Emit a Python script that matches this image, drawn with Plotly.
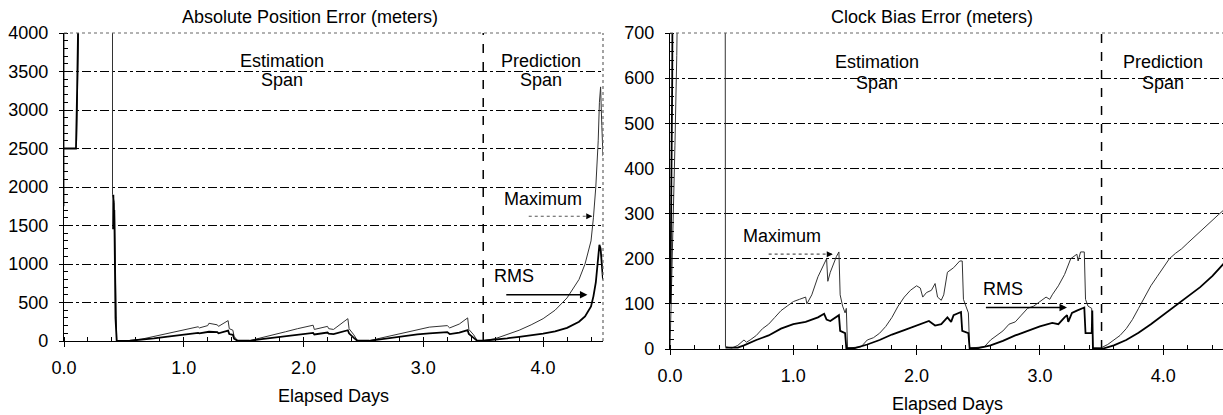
import plotly.graph_objects as go

# ---------------- data ----------------
# Left: Absolute Position Error (meters)
pos_max_x = [0.0, 0.0, None,
             0.105, 0.115, 0.125, None,
             0.405, 0.405, 0.42, 0.44,
             0.45, 0.55, 0.65, 0.75, 0.85, 0.95, 1.05, 1.12, 1.13, 1.20, 1.21, 1.28, 1.29, 1.37, 1.38, 1.41, 1.42, 1.45,
             1.55, 1.65, 1.75, 1.85, 1.95, 2.08, 2.09, 2.20, 2.21, 2.25, 2.37, 2.38, 2.42, 2.45,
             2.55, 2.65, 2.75, 2.85, 2.95, 3.05, 3.20, 3.22, 3.30, 3.37, 3.38, 3.42, 3.45,
             3.50, 3.60, 3.70, 3.80, 3.90, 4.00, 4.10, 4.20, 4.30, 4.35, 4.40, 4.42, 4.44, 4.46, 4.47, 4.48, 4.49, 4.50]
pos_max_y = [1750, 4300, None,
             2600, 3300, 4300, None,
             4300, 1900, 1800, 5,
             3, 5, 25, 60, 100, 135, 165, 185, 170, 200, 230, 210, 190, 265, 160, 140, 60, 5,
             5, 40, 80, 120, 160, 205, 150, 190, 160, 150, 290, 160, 80, 5,
             5, 40, 80, 115, 150, 180, 200, 170, 220, 300, 150, 80, 5,
             5, 30, 80, 140, 210, 290, 400, 560, 800, 1000, 1300, 1600, 2000, 2600, 3100, 3300, 2800, 2400]

pos_rms_x = [0.0, 0.1, 0.11, 0.12, None,
             0.41, 0.412, 0.415, 0.42, 0.43, 0.44,
             0.45, 0.55, 0.65, 0.75, 0.85, 0.95, 1.05, 1.12, 1.13, 1.20, 1.21, 1.28, 1.29, 1.37, 1.38, 1.41, 1.42, 1.45,
             1.55, 1.65, 1.75, 1.85, 1.95, 2.08, 2.09, 2.20, 2.21, 2.25, 2.37, 2.38, 2.42, 2.45,
             2.55, 2.65, 2.75, 2.85, 2.95, 3.05, 3.20, 3.22, 3.30, 3.37, 3.38, 3.42, 3.45,
             3.50, 3.60, 3.70, 3.80, 3.90, 4.00, 4.10, 4.20, 4.30, 4.35, 4.40, 4.42, 4.44, 4.46, 4.47, 4.48, 4.49, 4.50]
pos_rms_y = [2500, 2500, 3300, 4300, None,
             1450, 1900, 1500, 1700, 300, 3,
             2, 3, 15, 35, 55, 75, 95, 105, 100, 110, 120, 115, 100, 135, 90, 80, 30, 3,
             3, 25, 45, 65, 85, 105, 85, 110, 95, 90, 140, 100, 40, 3,
             3, 25, 45, 65, 85, 100, 115, 90, 110, 140, 90, 40, 3,
             3, 15, 35, 55, 75, 95, 125, 170, 250, 320, 450, 580, 760, 1050, 1250, 1200, 1000, 800]

# Right: Clock Bias Error (meters)
clk_max_x = [0.0, 0.02, 0.04, 0.055, 0.06, None,
             0.448, 0.45,
             0.50, 0.55, 0.60, 0.62, 0.65, 0.70, 0.75, 0.80, 0.85, 0.90, 0.95, 1.00, 1.05, 1.10, 1.11, 1.15, 1.20,
             1.25, 1.27, 1.28, 1.30, 1.35, 1.37, 1.38, 1.40, 1.42, 1.43, 1.44,
             1.50, 1.55, 1.60, 1.65, 1.70, 1.75, 1.80, 1.85, 1.90, 1.95, 2.00, 2.03, 2.05, 2.08, 2.12, 2.15, 2.17,
             2.20, 2.22, 2.25, 2.30, 2.35, 2.37, 2.38, 2.40, 2.42, 2.43,
             2.50, 2.55, 2.60, 2.65, 2.70, 2.75, 2.80, 2.85, 2.90, 2.95, 3.00, 3.05, 3.08, 3.10, 3.15, 3.20,
             3.25, 3.30, 3.31, 3.33, 3.36, 3.37, 3.39, 3.42, 3.43,
             3.50, 3.55, 3.60, 3.65, 3.70, 3.75, 3.80, 3.85, 3.90, 3.95, 4.00, 4.05, 4.10, 4.15, 4.20, 4.25,
             4.30, 4.35, 4.40, 4.45, 4.50]
clk_max_y = [0, 200, 450, 650, 760, None,
             760, 5,
             2, 8, 20, 15, 20, 30, 45, 55, 70, 85, 95, 105, 110, 115, 100, 120, 160,
             190, 200, 150, 170, 205, 215, 120, 95, 80, 90, 2,
             3, 5, 20, 25, 35, 50, 70, 95, 115, 130, 140, 135, 115, 125, 130, 145, 115,
             108, 120, 170, 180, 195, 195, 110, 95, 80, 2,
             3, 5, 20, 30, 40, 55, 60, 75, 90, 95, 105, 115, 110, 120, 140, 165,
             200, 210, 195, 215, 215, 110, 95, 90, 2,
             3, 10, 20, 30, 45, 65, 90, 115, 140, 160, 180, 200, 212, 222, 235, 248,
             260, 272, 285, 298, 310]

clk_rms_x = [0.003, 0.006, 0.01, 0.012, 0.014, 0.018, 0.02, None,
             0.45, 0.55, 0.60, 0.70, 0.80, 0.90, 1.00, 1.10, 1.20, 1.25, 1.27, 1.30, 1.37, 1.38, 1.42, 1.43,
             1.50, 1.60, 1.70, 1.80, 1.90, 2.00, 2.10, 2.15, 2.20, 2.25, 2.28, 2.30, 2.36, 2.37, 2.42, 2.43,
             2.50, 2.60, 2.70, 2.80, 2.90, 3.00, 3.10, 3.15, 3.20, 3.22, 3.23, 3.26, 3.30, 3.36, 3.37,
             3.42, 3.425, 3.43,
             3.50, 3.60, 3.70, 3.80, 3.90, 4.00, 4.10, 4.20, 4.30, 4.40, 4.50]
clk_rms_y = [100, 200, 320, 420, 330, 600, 760, None,
             3, 3, 8, 20, 30, 45, 55, 60, 70, 78, 65, 62, 75, 40, 35, 2,
             2, 10, 20, 32, 42, 52, 62, 52, 55, 70, 60, 75, 82, 40, 35, 2,
             2, 8, 18, 30, 40, 50, 58, 55, 70, 75, 60, 80, 85, 92, 35,
             35, 85, 2,
             0, 8, 20, 36, 55, 75, 95, 115, 137, 162, 192]

x_tick_vals = [0, 1, 2, 3, 4]
x_tick_text = ["0.0", "1.0", "2.0", "3.0", "4.0"]
pos_y_ticks = [0, 500, 1000, 1500, 2000, 2500, 3000, 3500, 4000]
clk_y_ticks = [0, 100, 200, 300, 400, 500, 600, 700]

split_day = 3.5

# label positions (data units)
pos_labels = [("Estimation", 1.82, 3640), ("Span", 1.82, 3390),
              ("Prediction", 3.98, 3640), ("Span", 3.98, 3390),
              ("Maximum", 4.0, 1850), ("RMS", 3.76, 850)]
clk_labels = [("Estimation", 1.68, 636), ("Span", 1.68, 589),
              ("Prediction", 4.0, 636), ("Span", 4.0, 589),
              ("Maximum", 0.91, 250), ("RMS", 2.70, 133)]
# arrows: (x_start, x_end, y)
pos_max_arrow = (3.88, 4.41, 1620)
pos_rms_arrow = (3.68, 4.37, 600)
clk_max_arrow = (0.80, 1.32, 210)
clk_rms_arrow = (2.55, 3.22, 92)

# ---------------- figure ----------------
W, H = 1223, 415
FONT = "Liberation Sans"
fig = go.Figure()

def px_x(p):
    return p / W

def px_y(p):
    return 1 - p / H

fig.add_trace(go.Scatter(x=pos_max_x, y=pos_max_y, mode="lines", xaxis="x", yaxis="y",
                         line=dict(color="#333333", width=1), connectgaps=False, showlegend=False))
fig.add_trace(go.Scatter(x=pos_rms_x, y=pos_rms_y, mode="lines", xaxis="x", yaxis="y",
                         line=dict(color="black", width=1.8), connectgaps=False, showlegend=False))
fig.add_trace(go.Scatter(x=clk_max_x, y=clk_max_y, mode="lines", xaxis="x2", yaxis="y2",
                         line=dict(color="#333333", width=1), connectgaps=False, showlegend=False))
fig.add_trace(go.Scatter(x=clk_rms_x, y=clk_rms_y, mode="lines", xaxis="x2", yaxis="y2",
                         line=dict(color="black", width=1.8), connectgaps=False, showlegend=False))

# dotted shafts for the "Maximum" arrows
for (xa, xb, yv), xr, yr in [(pos_max_arrow, "x", "y"), (clk_max_arrow, "x2", "y2")]:
    fig.add_trace(go.Scatter(x=[xa, xb], y=[yv, yv], mode="lines", xaxis=xr, yaxis=yr,
                             line=dict(color="#555555", width=1.2, dash="dot"), showlegend=False))

axis_common = dict(showline=True, linecolor="black", linewidth=1.2, zeroline=False, automargin=False,
                   tickfont=dict(family=FONT, size=18, color="black"))

xax = dict(axis_common, range=[0, 4.5], tickvals=x_tick_vals, ticktext=x_tick_text,
           ticks="outside", ticklen=5, tickcolor="black", showgrid=False,
           minor=dict(dtick=0.2, ticks="inside", ticklen=4, tickcolor="black", showgrid=False),
           ticklabelstandoff=5)
fig.update_layout(
    template="none",
    width=W, height=H, margin=dict(l=0, r=0, t=0, b=0, pad=0), autosize=False,
    paper_bgcolor="white", plot_bgcolor="white",
    xaxis=dict(xax, domain=[px_x(64), px_x(603)], anchor="y"),
    yaxis=dict(axis_common, range=[0, 4000], tickvals=pos_y_ticks, domain=[px_y(341), px_y(33)],
               anchor="x", ticks="outside", ticklen=4, tickcolor="black",
               showgrid=True, gridcolor="black", gridwidth=1, griddash="dashdot",
               minor=dict(dtick=100, ticks="inside", ticklen=4, tickcolor="black", showgrid=False),
               ticklabelstandoff=7),
    xaxis2=dict(xax, range=[0, 4.485], domain=[px_x(670), 1.0], anchor="y2"),
    yaxis2=dict(axis_common, range=[0, 700], tickvals=clk_y_ticks, domain=[px_y(349), px_y(33)],
                anchor="x2", ticks="outside", ticklen=4, tickcolor="black",
                showgrid=True, gridcolor="black", gridwidth=1, griddash="dashdot",
                minor=dict(dtick=20, ticks="inside", ticklen=4, tickcolor="black", showgrid=False),
                ticklabelstandoff=7),
)

shapes = []
for xr, yr in [("x", "y"), ("x2", "y2")]:
    # prediction boundary
    shapes.append(dict(type="line", xref=xr, yref=yr + " domain", x0=split_day, x1=split_day, y0=0, y1=1,
                       line=dict(color="black", width=1.5, dash="dash")))
    # dotted top frame
    shapes.append(dict(type="line", xref=xr + " domain", yref=yr + " domain", x0=0, x1=1, y0=1, y1=1,
                       line=dict(color="#666666", width=1.2, dash="dot")))
# dotted right frame of left panel
shapes.append(dict(type="line", xref="x domain", yref="y domain", x0=1, x1=1, y0=0, y1=1,
                   line=dict(color="#666666", width=1.2, dash="dot")))
fig.update_layout(shapes=shapes)

ann = []
tf = dict(family=FONT, size=18, color="black")
for txt, xv, yv in pos_labels:
    ann.append(dict(text=txt, x=xv, y=yv, xref="x", yref="y", showarrow=False, font=tf,
                    xanchor="center", yanchor="middle"))
for txt, xv, yv in clk_labels:
    ann.append(dict(text=txt, x=xv, y=yv, xref="x2", yref="y2", showarrow=False, font=tf,
                    xanchor="center", yanchor="middle"))
# arrows
for (xa, xb, yv), xr, yr in [(pos_rms_arrow, "x", "y"), (clk_rms_arrow, "x2", "y2")]:
    ann.append(dict(text="", x=xb, y=yv, ax=xa, ay=yv, xref=xr, yref=yr, axref=xr, ayref=yr,
                    showarrow=True, arrowhead=2, arrowsize=1, arrowwidth=1.5, arrowcolor="black"))
for (xa, xb, yv), xr, yr in [(pos_max_arrow, "x", "y"), (clk_max_arrow, "x2", "y2")]:
    ann.append(dict(text="", x=xb, y=yv, ax=xb - 0.04, ay=yv, xref=xr, yref=yr, axref=xr, ayref=yr,
                    showarrow=True, arrowhead=2, arrowsize=1, arrowwidth=1.2, arrowcolor="black"))
# titles
ann.append(dict(text="Absolute Position Error (meters)", x=px_x(310), y=px_y(17), xref="paper", yref="paper",
                showarrow=False, font=tf, xanchor="center", yanchor="middle"))
ann.append(dict(text="Clock Bias Error (meters)", x=px_x(932), y=px_y(17), xref="paper", yref="paper",
                showarrow=False, font=tf, xanchor="center", yanchor="middle"))
ann.append(dict(text="Elapsed Days", x=px_x(333), y=px_y(396), xref="paper", yref="paper",
                showarrow=False, font=tf, xanchor="center", yanchor="middle"))
ann.append(dict(text="Elapsed Days", x=px_x(947), y=px_y(404), xref="paper", yref="paper",
                showarrow=False, font=tf, xanchor="center", yanchor="middle"))
fig.update_layout(annotations=ann)

fig.write_html("out.html", config={"displayModeBar": False},
               post_script="document.body.style.margin='0';document.body.style.overflow='hidden';")
